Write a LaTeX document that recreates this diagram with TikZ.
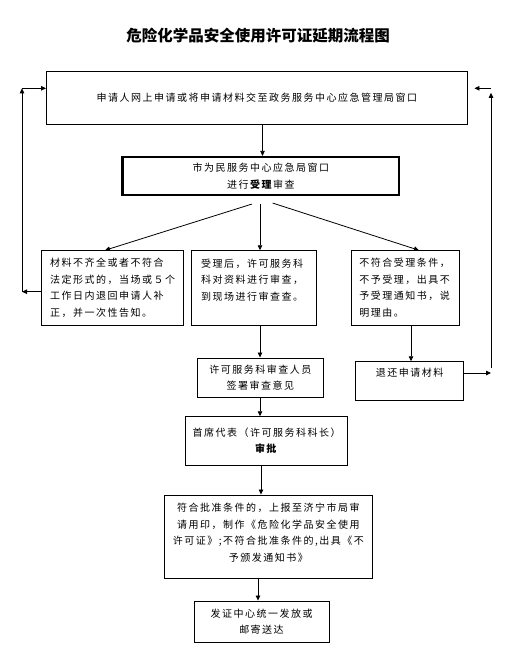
\documentclass[tikz,border=0pt]{standalone}
\usepackage{fontspec}
\setmainfont{Noto Sans CJK SC}
\newfontfamily\bodyfont[LetterSpace=15]{Noto Sans CJK SC}
\usetikzlibrary{arrows.meta,calc}
\begin{document}
\begin{tikzpicture}[x=1pt,y=-1pt,
  box/.style={draw, line width=0.9pt, inner sep=0pt, font=\bodyfont\fontsize{10}{16.5}\selectfont},
  arr/.style={line width=0.8pt, -{Triangle[length=5pt,width=4.5pt]}},
  titletext/.style={font=\fontsize{15.5}{18}\selectfont\bfseries}
]
\useasboundingbox (0,0) rectangle (527,663);
\node[titletext] (title) at (258,36) {危险化学品安全使用许可证延期流程图};

\node[box, minimum width=420.5, minimum height=52.5] (b1) at (256.75,97.75)
  {申请人网上申请或将申请材料交至政务服务中心应急管理局窗口};
\node[box, line width=2.2pt, minimum width=276.5, minimum height=38, align=center] (b2) at (260.75,176)
  {市为民服务中心应急局窗口\\进行\textbf{受理}审查};

\node[box, minimum width=142, minimum height=74.3, text width=124, align=left] (lb) at (112,287.85)
  {材料不齐全或者不符合\\法定形式的，当场或５个\\工作日内退回申请人补\\正，并一次性告知。};
\node[box, minimum width=125, minimum height=74.3, text width=106, align=left] (mb) at (254.2,287.85)
  {受理后，许可服务科\\科对资料进行审查，\\到现场进行审查查。\\\mbox{}};
\node[box, minimum width=107.3, minimum height=74.3, text width=92, align=left] (rb) at (405.35,287.85)
  {不符合受理条件，\\不予受理，出具不\\予受理通知书，说\\明理由。};

\node[box, minimum width=126, minimum height=39, align=center] (sb) at (260.3,377.5)
  {许可服务科审查人员\\签署审查意见};
\node[box, minimum width=107.8, minimum height=38.3, align=center] (tb) at (409.6,380.85)
  {退还申请材料\\\mbox{}};

\node[box, minimum width=161.6, minimum height=48.3, align=center] (cb) at (266.5,440.85)
  {首席代表（许可服务科科长）\\\textbf{审批}};
\node[box, minimum width=208, minimum height=83, align=center] (pb) at (268.3,536.5)
  {符合批准条件的，上报至济宁市局审\\请用印，制作《危险化学品安全使用\\许可证》;不符合批准条件的,出具《不\\予颁发通知书》\\[-8pt]\mbox{}};
\node[box, minimum width=135, minimum height=41, align=center] (fb) at (261.5,621.5)
  {发证中心统一发放或\\邮寄送达};

% main flow
\draw[arr] (b1.south -| 262.5,0) -- (b2.north -| 262.5,0);
\draw[arr] ($(b2.south)+(-9,8)$) -- ($(lb.north)+(-7,0)$);
\draw[arr] ($(b2.south)+(-0.75,8)$) -- ($(mb.north)+(5.8,0)$);
\draw[arr] ($(b2.south)+(12,7)$) -- ($(rb.north)+(13.65,0)$);
\draw[arr] (mb.south -| 260,0) -- (sb.north -| 260,0);
\draw[arr] (rb.south -| 411,0) -- (tb.north -| 411,0);
\draw[arr] (sb.south -| 260,0) -- (cb.north -| 260,0);
\draw[arr] (cb.south -| 261,0) -- (pb.north -| 261,0);
\draw[arr] (pb.south -| 258,0) -- (fb.north -| 258,0);

% left loop
\coordinate (l1) at (22,291.7);
\coordinate (l2) at (22,88.3);
\draw[arr] (lb.west |- l1) -- (l1);
\draw[arr] (l1) -- (l2);
\draw[arr] (l2) -- (b1.west |- l2);

% right loop
\coordinate (r1) at (491,373);
\coordinate (r2) at (491,88.3);
\draw[arr] (tb.east |- r1) -- (r1);
\draw[arr] ($(r1)+(0,-5)$) -- ($(r2)+(0,4.5)$);
\draw[arr] (r2) -- ($(b1.east |- r2)+(7,0)$);
\end{tikzpicture}
\end{document}
